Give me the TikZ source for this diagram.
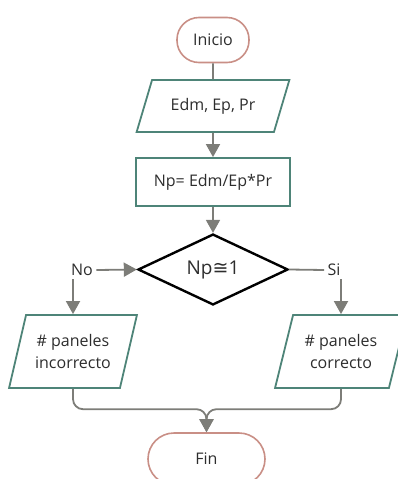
\documentclass[tikz,border=0pt]{standalone}
\usepackage{fontspec}
\setmainfont{Open Sans}
\newfontfamily\symbolFont{DejaVu Sans}
\usetikzlibrary{positioning, shapes.geometric, arrows.meta}
\definecolor{lineColor}{RGB}{125,125,120}
\definecolor{ioColor}{RGB}{78,132,120}
\definecolor{terminalColor}{RGB}{201,143,134}
\definecolor{textColor}{RGB}{45,45,45}
\tikzstyle{chart} = [x = 1pt, y = -1pt, every node/.style={text=textColor, font=\fontsize{16}{22}\selectfont, align=center}]
\tikzstyle{terminalStyle} = [draw=terminalColor, line width=1.6pt, rounded corners=22pt, minimum width=72pt, minimum height=45pt]
\tikzstyle{ioStyle} = [draw=ioColor, line width=1.8pt, trapezium, trapezium stretches=true]
\tikzstyle{processStyle} = [draw=ioColor, line width=1.8pt, minimum width=154pt, minimum height=48pt]
\tikzstyle{decisionStyle} = [draw=black, line width=2.4pt, diamond, minimum width=150pt, minimum height=65pt, inner sep=0pt, font=\fontsize{19}{24}\selectfont]
\tikzstyle{flowLine} = [draw=lineColor, line width=1.8pt]
\tikzstyle{flowArrow} = [flowLine, -{Triangle[width=14pt, length=13pt]}]
\newcommand{\flowArrow}[2]{\draw [flowArrow] (#1) -- (#2);}

\begin{document}
\begin{tikzpicture}[chart]
  \clip (0,0) rectangle (398,479);

  % main column
  \node [terminalStyle] (inicio) at (213,40) {Inicio};
  \node [ioStyle, trapezium left angle=63, trapezium right angle=117, minimum width=153pt, minimum height=52pt] (datos) at (213,106) {Edm, Ep, Pr};
  \node [processStyle] (calculo) at (213,182) {Np= Edm/Ep*Pr};
  \node [decisionStyle] (decision) at (213,269.5) {Np{\symbolFont ≅}1};

  % branches
  \node (noLabel) at (82,270) {No};
  \node (siLabel) at (334,270) {Si};
  \node [ioStyle, trapezium left angle=70, trapezium right angle=110, minimum width=128pt, minimum height=73pt] (incorrecto) at (73,351.5) {\# paneles\\incorrecto};
  \node [ioStyle, trapezium left angle=70, trapezium right angle=110, minimum width=132pt, minimum height=73pt] (correcto) at (341,351.5) {\# paneles\\correcto};

  \node [terminalStyle, rounded corners=26pt, minimum width=117pt, minimum height=52pt] (fin) at (206.5,459) {Fin};
  \coordinate (merge) at ([yshift=23pt]fin.north);

  % connectors
  \draw [flowLine] (inicio.south) -- (datos.north);
  \flowArrow{datos.south}{calculo.north}
  \flowArrow{calculo.south}{decision.north}
  \flowArrow{noLabel.east}{decision.west}
  \draw [flowLine] (decision.east) -- (siLabel.west);
  \flowArrow{incorrecto.north |- noLabel.south}{incorrecto.north}
  \flowArrow{correcto.north |- siLabel.south}{correcto.north}
  \draw [flowArrow, rounded corners=10pt] (incorrecto.south) |- (merge) -- (fin.north);
  \draw [flowArrow, rounded corners=10pt] (correcto.south) |- (merge) -- (fin.north);
\end{tikzpicture}
\end{document}
